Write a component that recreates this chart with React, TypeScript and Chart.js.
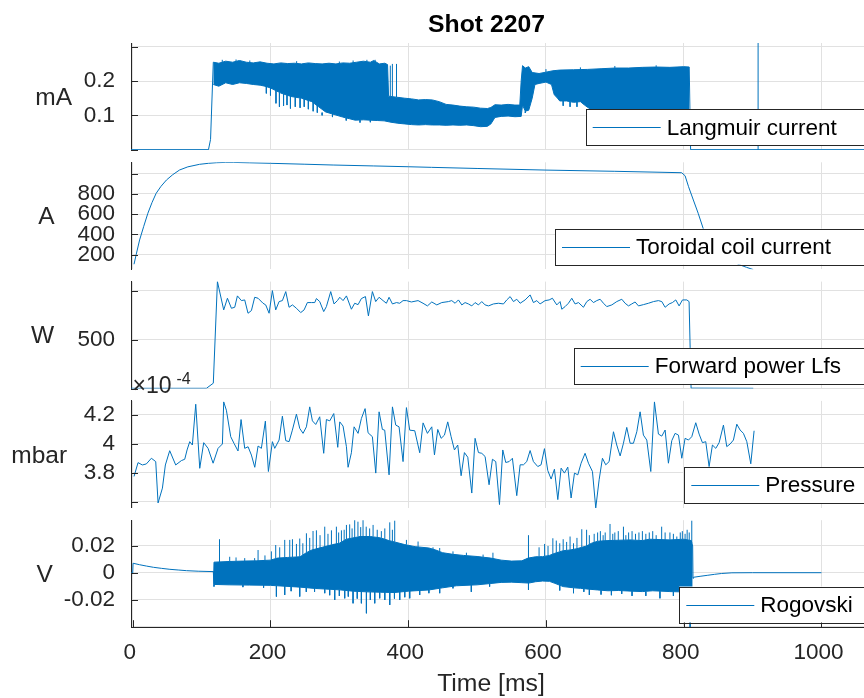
import React, { useEffect, useRef } from 'react';
import { Chart, registerables } from 'chart.js';

Chart.register(...registerables);

const FONT = '"Liberation Sans", Arial, Helvetica, sans-serif';
const BLUE = '#0072BD';
const AXIS = '#262626';
const GRID = '#e1e1e1';

type Pair = [number, number];
type Spike = [number, number, number]; // time, from, to

// ---------- shared x axis ----------
const X_MIN = -2.5;
const X_MAX = 1085;
const X_TICKS = [0, 200, 400, 600, 800, 1000];
const X_TICK_LABELS = ['0', '200', '400', '600', '800', '1000'];

// ---------- Langmuir current (mA) ----------
const LANG_UPPER: Pair[] = [
  [-2.5, 0], [110, 0], [113, 0.03], [116, 0.2], [117, 0.255], [125, 0.252], [135, 0.258], [145, 0.255],
  [155, 0.26], [165, 0.255], [175, 0.253], [185, 0.256], [195, 0.252], [205, 0.25], [215, 0.253],
  [225, 0.251], [235, 0.252], [245, 0.25], [255, 0.253], [265, 0.251], [275, 0.25], [285, 0.252],
  [295, 0.25], [305, 0.253], [315, 0.252], [325, 0.255], [335, 0.258], [345, 0.255], [350, 0.26],
  [358, 0.25], [366, 0.252], [370, 0.248], [371.5, 0.156], [383, 0.153], [395, 0.15], [405, 0.148],
  [415, 0.145], [425, 0.146], [435, 0.145], [445, 0.14], [455, 0.132], [465, 0.13], [475, 0.127],
  [485, 0.125], [495, 0.124], [505, 0.121], [515, 0.12], [520, 0.123], [526, 0.131], [535, 0.13],
  [545, 0.132], [555, 0.13], [562, 0.13], [564, 0.2], [566, 0.245], [570, 0.238], [575, 0.242],
  [580, 0.225], [590, 0.222], [600, 0.226], [610, 0.23], [620, 0.232], [640, 0.233], [660, 0.234],
  [680, 0.236], [700, 0.238], [720, 0.238], [740, 0.24], [760, 0.241], [780, 0.24], [800, 0.242],
  [808, 0.241], [810, 0], [1085, 0],
];
const LANG_LOWER: Pair[] = [
  [117, 0.19], [125, 0.185], [135, 0.195], [145, 0.19], [155, 0.195], [165, 0.193], [175, 0.19],
  [185, 0.188], [192, 0.185], [200, 0.18], [215, 0.165], [230, 0.155], [245, 0.15], [260, 0.14],
  [270, 0.125], [280, 0.11], [290, 0.104], [305, 0.095], [315, 0.09], [323, 0.086], [335, 0.087],
  [345, 0.086], [355, 0.085], [365, 0.084], [375, 0.08], [385, 0.077], [395, 0.075], [405, 0.073],
  [415, 0.072], [425, 0.073], [435, 0.072], [445, 0.072], [455, 0.071], [465, 0.072], [475, 0.071],
  [485, 0.072], [495, 0.07], [505, 0.067], [515, 0.068], [520, 0.075], [526, 0.094], [535, 0.097],
  [545, 0.098], [555, 0.096], [564, 0.097], [566, 0.13], [570, 0.112], [575, 0.115], [580, 0.15],
  [584, 0.19], [590, 0.193], [600, 0.197], [608, 0.19], [612, 0.16], [616, 0.152], [620, 0.142],
  [630, 0.142], [640, 0.138], [650, 0.14], [656, 0.13], [670, 0.11], [700, 0.105], [750, 0.105],
  [808, 0.11],
];
const LANG_SPIKES: Spike[] = [
  [130, 0.252, 0.262], [150, 0.255, 0.263], [170, 0.253, 0.26], [194, 0.186, 0.164], [200, 0.18, 0.158],
  [208, 0.172, 0.135], [213, 0.166, 0.125], [219, 0.162, 0.128], [224, 0.159, 0.13], [229, 0.156, 0.12],
  [236, 0.153, 0.125], [238, 0.252, 0.258], [243, 0.15, 0.122], [249, 0.148, 0.125], [255, 0.145, 0.118],
  [262, 0.138, 0.112], [268, 0.13, 0.108], [275, 0.108, 0.1], [290, 0.104, 0.095], [300, 0.25, 0.257],
  [310, 0.093, 0.085], [320, 0.252, 0.26], [330, 0.086, 0.079], [340, 0.256, 0.262], [345, 0.086, 0.08],
  [352, 0.258, 0.262], [374, 0.156, 0.245], [377, 0.155, 0.25], [383, 0.153, 0.25], [570, 0.112, 0.107],
  [600, 0.226, 0.235], [625, 0.142, 0.128], [635, 0.14, 0.125], [645, 0.14, 0.125], [650, 0.233, 0.24],
  [700, 0.238, 0.244], [760, 0.241, 0.246], [908, 0, 0.311],
];
const LANG_TICKS = [0, 0.1, 0.2, 0.3];
const LANG_TICK_LABELS = ['', '0.1', '0.2', ''];

// ---------- Toroidal coil current (A) ----------
const TOR: Pair[] = [
  [1.9, 105], [5, 200], [10, 345], [16, 480], [22, 609], [28, 715], [34, 806], [41, 875], [49, 938],
  [58, 990], [68, 1037], [80, 1068], [97, 1093], [110, 1103], [121.5, 1109], [135, 1112], [146, 1112],
  [170, 1108], [200, 1103], [250, 1094], [291, 1086], [350, 1077], [400, 1069], [434, 1063],
  [500, 1052], [600, 1036], [700, 1024], [797, 1010], [802, 980], [807, 872], [814, 740], [821, 609],
  [829, 444], [840, 330], [850, 250], [860, 185], [870, 135], [881, 100], [891, 75], [901, 52],
];
const TOR_TICKS = [200, 400, 600, 800, 1000];
const TOR_TICK_LABELS = ['200', '400', '600', '800', ''];

// ---------- Forward power Lfs (W) ----------
const FWD: Pair[] = [
  [-2.5, 3], [107, 3], [117, 55], [123, 1092], [132.1, 803], [137.5, 922], [143.3, 820], [148.1, 830],
  [152, 946], [157.8, 898], [162.6, 905], [167.4, 769], [172.3, 796], [177.1, 932], [182, 922],
  [189.2, 871], [193.1, 854], [198, 769], [202.8, 1000], [207.6, 803], [212.5, 888], [217.3, 898],
  [222.2, 990], [227, 830], [231.9, 854], [237.7, 820], [243.9, 776], [248.8, 803], [253.6, 878],
  [259.4, 878], [264.3, 878], [266.7, 919], [271.5, 888], [277.3, 786], [281.2, 837], [287.5, 990],
  [292.3, 864], [297.2, 898], [300.6, 932], [305.4, 898], [310.3, 946], [317.5, 810], [322.3, 871],
  [327.2, 857], [332, 919], [337.9, 939], [342.2, 742], [348, 990], [352.8, 888], [357.7, 932],
  [363.5, 898], [368.3, 871], [372.2, 932], [377.1, 864], [382.9, 878], [387.7, 871], [392.5, 898],
  [397.4, 898], [404.6, 884], [414.3, 898], [421.5, 871], [427.9, 844], [434.2, 884], [441.5, 854],
  [448.7, 878], [458.4, 888], [463.2, 898], [468.1, 871], [472.9, 905], [477.8, 854], [482.6, 878],
  [487.4, 864], [492.3, 844], [497.1, 878], [502, 854], [506.8, 888], [511.6, 854], [516.5, 844],
  [523.7, 864], [531, 871], [538.3, 864], [543.1, 905], [548, 939], [552.8, 888], [557.6, 912],
  [562.5, 871], [569.7, 905], [577, 956], [581.8, 878], [586.7, 898], [591.5, 864], [598.8, 898],
  [604.6, 905], [609.4, 922], [615.7, 854], [620.5, 888], [623, 810], [627.8, 837], [632.6, 871],
  [637.5, 922], [642.3, 864], [647.2, 878], [654.4, 830], [659.3, 888], [664.1, 912], [668.9, 878],
  [673.8, 898], [678.6, 912], [683.5, 871], [688.3, 837], [695.6, 854], [702.8, 888], [710.1, 912],
  [714.9, 871], [719.8, 844], [724.6, 864], [729.4, 884], [734.3, 844], [741.5, 857], [748.8, 871],
  [756.1, 888], [763.3, 898], [768.2, 888], [773, 830], [778.8, 864], [783.6, 878], [788.5, 905],
  [793.3, 844], [798.2, 905], [804.5, 905], [807.8, 888], [810.7, 5], [901, 3],
];
const FWD_TICKS = [0, 500, 1000];
const FWD_TICK_LABELS = ['', '500', ''];

// ---------- Pressure (x 1e-4 mbar) ----------
const PRES: Pair[] = [
  [1.9, 3.775], [7.7, 3.87], [14, 3.854], [19.8, 3.861], [27.1, 3.9], [33.4, 3.877], [36.8, 3.593],
  [43.1, 3.695], [47.4, 3.854], [53.7, 3.952], [62.4, 3.854], [70.7, 3.884], [75.5, 3.893],
  [78.9, 3.957], [82.8, 4.014], [86.6, 3.991], [91.5, 4.271], [97.3, 3.831], [103.1, 4.007],
  [109.4, 3.968], [116.7, 3.866], [123.9, 3.968], [130.2, 3.998], [132.1, 4.287], [136, 4.23],
  [142.3, 4.048], [147.1, 4.002], [152.9, 3.95], [157.3, 4.166], [162.6, 3.968], [167.5, 3.979],
  [172.3, 3.922], [177.2, 3.838], [182, 3.984], [186.8, 3.968], [192.6, 4.155], [197, 3.809],
  [202.8, 4.014], [206.2, 3.968], [212.5, 4.025], [217.3, 4.189], [222.2, 4.021], [227, 4.014],
  [231.8, 4.093], [237.7, 4.203], [242.5, 4.105], [247.3, 4.071], [252.2, 4.116], [257, 4.253],
  [260.9, 4.157], [265.7, 4.132], [271.5, 4.185], [277.3, 3.934], [281.2, 4.166], [286.1, 4.157],
  [291.9, 4.207], [297.7, 3.975], [300.6, 4.15], [305.4, 4.121], [310.3, 3.979], [312.7, 3.838],
  [317.5, 3.938], [321.4, 4.116], [327.2, 4.071], [332, 4.173], [337.4, 4.241], [341.7, 4.075],
  [348, 4.048], [352.9, 3.798], [357.7, 4.219], [362.5, 4.098], [365.9, 4.093], [372.2, 3.786],
  [377.1, 4.253], [381.9, 4.128], [386.7, 4.116], [392.5, 3.877], [397.4, 4.248], [402.2, 4.093],
  [409.5, 4.089], [416.7, 3.938], [421.6, 4.143], [427.9, 4.071], [434.2, 4.116], [438.1, 3.923],
  [442.9, 4.098], [447.8, 4.037], [452.6, 4.059], [457.4, 4.15], [462.3, 4.048], [467.1, 3.957],
  [471.9, 3.991], [476.8, 3.78], [481.6, 3.939], [486.5, 3.907], [492.3, 3.661], [497.1, 4.037],
  [502, 3.939], [506.8, 3.934], [511.6, 3.912], [517.4, 3.718], [522.3, 3.893], [527.1, 3.877],
  [532.5, 3.582], [537.3, 3.957], [541.6, 3.871], [546.5, 3.877], [551.3, 3.9], [557.6, 3.643],
  [562.5, 3.855], [567.3, 3.855], [572.1, 3.877], [577, 3.953], [581.8, 3.877], [588.1, 3.843],
  [592.9, 3.855], [597.8, 3.966], [602.6, 3.816], [607.5, 3.757], [612.3, 3.825], [617.2, 3.616],
  [622, 3.832], [626.8, 3.798], [631.7, 3.839], [636.5, 3.627], [641.4, 3.798], [646.2, 3.786],
  [651, 3.866], [656.8, 3.934], [661.7, 3.866], [667.5, 3.809], [672.3, 3.559], [677.2, 3.752],
  [682, 3.9], [686.8, 3.855], [691.7, 3.877], [698, 4.082], [702.8, 3.991], [707.7, 3.916],
  [712.5, 4.003], [717.3, 4.112], [722.2, 4.003], [727, 4.003], [731.9, 4.082], [736.7, 4.219],
  [741.5, 4.059], [746.4, 4.025], [752.2, 3.809], [757.5, 4.287], [763.3, 4.066], [768.2, 4.052],
  [773, 4.094], [777.8, 3.866], [782.7, 4.021], [787.5, 4.071], [792.4, 4.059], [797.2, 3.9],
  [802, 4.037], [806.9, 4.025], [811.7, 4.048], [817.5, 4.144], [822.4, 4.066], [827.2, 4.007],
  [832, 4.014], [836.9, 3.843], [841.7, 3.991], [846.6, 3.968], [851.4, 4.007], [857.7, 4.128],
  [862.5, 3.98], [867.4, 3.998], [872.2, 4.025], [877.1, 4.134], [881.9, 4.094], [886.7, 4.071],
  [891.6, 4.014], [897.4, 3.862], [902.2, 4.089],
];
const PRES_TICKS = [3.6, 3.8, 4.0, 4.2];
const PRES_TICK_LABELS = ['', '3.8', '4', '4.2'];

// ---------- Rogovski (V) ----------
const ROG_PRE: Pair[] = [
  [-2.5, 0], [0, 0], [0.5, 0.0072], [10, 0.0061], [20, 0.0051], [30, 0.0042], [42, 0.0034],
  [54, 0.0027], [66, 0.0022], [78, 0.0017], [95, 0.0013], [117, 0.001],
];
const ROG_UPPER: Pair[] = [
  [117, 0.001], [118, 0.008], [140, 0.0085], [160, 0.0088], [180, 0.009], [200, 0.0095], [210, 0.011],
  [225, 0.0115], [243, 0.012], [252, 0.015], [260, 0.017], [275, 0.019], [290, 0.021], [300, 0.022],
  [310, 0.025], [330, 0.027], [345, 0.027], [360, 0.026], [372, 0.024], [380, 0.023], [395, 0.021],
  [410, 0.0195], [430, 0.0185], [440, 0.017], [450, 0.015], [465, 0.0138], [480, 0.013], [500, 0.0122],
  [520, 0.011], [535, 0.0095], [550, 0.0088], [565, 0.009], [574, 0.011], [585, 0.012], [595, 0.0121],
  [605, 0.013], [613, 0.0146], [625, 0.0165], [635, 0.017], [645, 0.018], [652, 0.019], [659, 0.02],
  [666, 0.022], [675, 0.0235], [690, 0.024], [722, 0.0245], [740, 0.024], [750, 0.025], [780, 0.0245],
  [800, 0.025], [811, 0.024], [813, 0.02],
];
const ROG_LOWER: Pair[] = [
  [117, 0.001], [118, -0.0085], [140, -0.0088], [170, -0.009], [200, -0.0092], [220, -0.0098],
  [243, -0.0105], [265, -0.0115], [300, -0.0125], [320, -0.0135], [340, -0.014], [360, -0.0143],
  [380, -0.0145], [400, -0.0135], [430, -0.0126], [450, -0.011], [470, -0.0095], [500, -0.0088],
  [520, -0.0078], [535, -0.007], [550, -0.0068], [565, -0.0072], [575, -0.0075], [585, -0.0065],
  [595, -0.006], [605, -0.0062], [613, -0.0077], [625, -0.0101], [640, -0.011], [650, -0.0114],
  [662, -0.012], [675, -0.0126], [690, -0.0132], [705, -0.013], [725, -0.0135], [740, -0.0138],
  [755, -0.0132], [780, -0.0138], [795, -0.014], [805, -0.0135], [813, -0.012],
];
const ROG_UP_SPIKES: Spike[] = [
  [126, 0.008, 0.025], [140.8, 0.0085, 0.012], [150, 0.0087, 0.0115], [162.6, 0.0088, 0.011],
  [177, 0.009, 0.011], [182, 0.009, 0.017], [192, 0.0092, 0.013], [201.3, 0.0095, 0.016],
  [207.6, 0.011, 0.0207], [213.4, 0.011, 0.019], [220.7, 0.0115, 0.0245], [228, 0.0115, 0.0245],
  [231.9, 0.0118, 0.025], [237.7, 0.012, 0.0215], [242.5, 0.012, 0.0255], [247, 0.013, 0.022],
  [252.2, 0.015, 0.0294], [257, 0.016, 0.026], [261.8, 0.017, 0.0311], [266.7, 0.0175, 0.0316],
  [272, 0.018, 0.028], [278.8, 0.019, 0.0343], [283.5, 0.02, 0.029], [288.5, 0.021, 0.0316],
  [295.7, 0.0215, 0.0343], [299, 0.022, 0.03], [303, 0.023, 0.0316], [307, 0.024, 0.032],
  [310.3, 0.025, 0.0356], [315, 0.025, 0.036], [318.5, 0.026, 0.033], [322.3, 0.026, 0.0393],
  [327, 0.027, 0.038], [331, 0.027, 0.034], [334.4, 0.027, 0.0393], [339, 0.027, 0.0343],
  [344, 0.027, 0.033], [349, 0.027, 0.0356], [355, 0.026, 0.032], [361, 0.026, 0.031], [366, 0.025, 0.033],
  [373.2, 0.024, 0.0375], [377, 0.0235, 0.032], [380.4, 0.023, 0.0388], [397.4, 0.021, 0.0245],
  [414.3, 0.019, 0.0233], [436, 0.017, 0.019], [445.7, 0.016, 0.0185], [465, 0.0138, 0.016],
  [484.5, 0.013, 0.015], [508.7, 0.0118, 0.0136], [523, 0.0105, 0.015], [574.6, 0.011, 0.028],
  [590, 0.0125, 0.019], [598, 0.0125, 0.0215], [603, 0.013, 0.02], [610, 0.0135, 0.0257],
  [615, 0.015, 0.024], [620, 0.016, 0.022], [625, 0.0165, 0.025], [630, 0.017, 0.023], [635, 0.017, 0.027],
  [640, 0.017, 0.022], [645, 0.018, 0.026], [652, 0.019, 0.0324], [659, 0.02, 0.032], [663, 0.021, 0.028],
  [670, 0.022, 0.029], [675, 0.0235, 0.03], [679, 0.023, 0.031], [683, 0.023, 0.028], [686, 0.023, 0.03],
  [693, 0.024, 0.0363], [697, 0.024, 0.029], [700, 0.024, 0.03], [705, 0.024, 0.031], [712.5, 0.024, 0.0343],
  [716, 0.0245, 0.028], [720, 0.0245, 0.03], [725, 0.0245, 0.031], [730, 0.0245, 0.029], [735, 0.024, 0.03],
  [740, 0.024, 0.031], [745, 0.024, 0.029], [750, 0.025, 0.03], [755, 0.025, 0.031], [760, 0.024, 0.028],
  [768, 0.024, 0.0343], [773, 0.0245, 0.03], [780, 0.0245, 0.03], [785, 0.0245, 0.029], [790, 0.024, 0.027],
  [795, 0.025, 0.03], [798, 0.025, 0.031], [802, 0.025, 0.029], [805, 0.024, 0.032], [808, 0.024, 0.03],
  [811.7, 0.022, 0.0388],
];
const ROG_DOWN_SPIKES: Spike[] = [
  [118, -0.0085, -0.0101], [160, -0.0088, -0.0105], [190, -0.009, -0.011], [208.6, -0.0095, -0.0175],
  [220.7, -0.0098, -0.0163], [230, -0.01, -0.0135], [242.5, -0.0105, -0.0175], [252, -0.011, -0.014],
  [264, -0.0115, -0.014], [278.8, -0.012, -0.015], [286, -0.012, -0.0165], [293.3, -0.0123, -0.02],
  [300, -0.0125, -0.017], [307.8, -0.013, -0.0188], [313, -0.013, -0.0175], [319.9, -0.0135, -0.0225],
  [326, -0.0137, -0.019], [332, -0.0138, -0.0225], [339.3, -0.014, -0.0299], [345, -0.014, -0.02],
  [351.4, -0.0142, -0.0225], [358.6, -0.0143, -0.0188], [366, -0.0144, -0.02], [373.2, -0.0145, -0.0237],
  [380, -0.0145, -0.019], [387.7, -0.014, -0.02], [395, -0.0137, -0.018], [402.2, -0.0133, -0.0188],
  [416.7, -0.013, -0.0163], [430, -0.0126, -0.015], [445.7, -0.0115, -0.015], [465, -0.0097, -0.0114],
  [491.6, -0.009, -0.014], [518.2, -0.008, -0.0101], [574.6, -0.0075, -0.0126], [620, -0.009, -0.013],
  [640, -0.011, -0.015], [655, -0.0115, -0.014], [663, -0.012, -0.0163], [680, -0.0128, -0.016],
  [695, -0.013, -0.0165], [710, -0.013, -0.0155], [725, -0.0135, -0.017], [745, -0.0138, -0.017],
  [765.5, -0.0135, -0.0188], [785, -0.0138, -0.017], [800, -0.014, -0.0165], [809.3, -0.013, -0.0402],
];
const ROG_POST: Pair[] = [
  [813, 0.02], [813.5, -0.004], [814.1, -0.0032], [825, -0.0024], [835, -0.0017], [845, -0.001],
  [855, -0.0004], [870, 0.0001], [900, 0.0002], [1000, 0.0002],
];
const ROG_TICKS = [-0.04, -0.02, 0, 0.02];
const ROG_TICK_LABELS = ['', '-0.02', '0', '0.02'];

// ---------- layout ----------
const CANVAS_W = 900;
const PLOT_H = 107;
const LEFT = 131;
const RIGHT_PAD = 20;

const pts = (a: Pair[]) => a.map(([x, y]) => ({ x, y }));
const spikePts = (a: Spike[]) =>
  a.flatMap(([t, from, to]) => [
    { x: t, y: from },
    { x: t, y: to },
    { x: t, y: null },
  ]);
const line = (data: any[], extra: any = {}) => ({
  data,
  borderColor: BLUE,
  backgroundColor: BLUE,
  borderWidth: 1,
  pointRadius: 0,
  fill: false,
  tension: 0,
  spanGaps: false,
  ...extra,
});

type Panel = {
  cTop: number;
  cH: number;
  plotTop: number;
  yMin: number;
  yMax: number;
  yTicks: number[];
  yLabels: string[];
  ylabel: string;
  ylabelX: number;
  legend: string;
  legendLeft: number;
  datasets: any[];
  bottom?: boolean;
  extra?: (ctx: CanvasRenderingContext2D, chart: any, p: Panel) => void;
};

const PANELS: Panel[] = [
  {
    cTop: 0, cH: 158, plotTop: 43, yMin: -0.001, yMax: 0.311, yTicks: LANG_TICKS, yLabels: LANG_TICK_LABELS,
    ylabel: 'mA', ylabelX: 53.7, legend: 'Langmuir current', legendLeft: 585.7,
    datasets: [line(pts(LANG_UPPER)), line(pts(LANG_LOWER), { fill: '-1' }), line(spikePts(LANG_SPIKES))],
    extra: (ctx) => {
      ctx.fillStyle = '#000';
      ctx.font = `bold 24.75px ${FONT}`;
      ctx.textAlign = 'center';
      ctx.textBaseline = 'alphabetic';
      ctx.fillText('Shot 2207', 486.5, 32);
    },
  },
  {
    cTop: 140, cH: 136, plotTop: 162.3, yMin: 55, yMax: 1113, yTicks: TOR_TICKS, yLabels: TOR_TICK_LABELS,
    ylabel: 'A', ylabelX: 46.3, legend: 'Toroidal coil current', legendLeft: 555,
    datasets: [line(pts(TOR))],
  },
  {
    cTop: 259, cH: 136, plotTop: 281.6, yMin: 0, yMax: 1092, yTicks: FWD_TICKS, yLabels: FWD_TICK_LABELS,
    ylabel: 'W', ylabelX: 42.5, legend: 'Forward power Lfs', legendLeft: 573.7,
    datasets: [line(pts(FWD))],
  },
  {
    cTop: 361, cH: 154, plotTop: 400.9, yMin: 3.559, yMax: 4.294, yTicks: PRES_TICKS, yLabels: PRES_TICK_LABELS,
    ylabel: 'mbar', ylabelX: 39.2, legend: 'Pressure', legendLeft: 684.3,
    datasets: [line(pts(PRES))],
    extra: (ctx, chart, p) => {
      ctx.fillStyle = AXIS;
      ctx.textAlign = 'left';
      ctx.textBaseline = 'alphabetic';
      ctx.font = `23px ${FONT}`;
      ctx.fillText('\u00d710', 132.5, 393.3 - p.cTop);
      ctx.font = `16px ${FONT}`;
      ctx.fillText('-4', 176.5, 383.5 - p.cTop);
    },
  },
  {
    cTop: 498, cH: 200, plotTop: 520.2, yMin: -0.0402, yMax: 0.0391, yTicks: ROG_TICKS, yLabels: ROG_TICK_LABELS,
    ylabel: 'V', ylabelX: 44.7, legend: 'Rogovski', legendLeft: 679.3,
    datasets: [
      line(pts(ROG_UPPER)),
      line(pts(ROG_LOWER), { fill: '-1' }),
      line(pts(ROG_PRE)),
      line(pts(ROG_POST)),
      line(spikePts(ROG_UP_SPIKES)),
      line(spikePts(ROG_DOWN_SPIKES)),
    ],
    bottom: true,
    extra: (ctx, chart, p) => {
      ctx.fillStyle = AXIS;
      ctx.font = `24.75px ${FONT}`;
      ctx.textAlign = 'center';
      ctx.textBaseline = 'alphabetic';
      ctx.fillText('Time [ms]', 491, 691 - p.cTop);
    },
  },
];

const overlay = (p: Panel) => ({
  id: 'overlay',
  afterDraw(chart: any) {
    const ctx: CanvasRenderingContext2D = chart.ctx;
    const a = chart.chartArea;
    ctx.save();
    // inward tick marks
    ctx.strokeStyle = AXIS;
    ctx.lineWidth = 1;
    ctx.beginPath();
    const ys = chart.scales.y;
    for (const v of p.yTicks) {
      const py = Math.round(ys.getPixelForValue(v)) + 0.5;
      ctx.moveTo(a.left, py);
      ctx.lineTo(a.left + 7, py);
    }
    if (p.bottom) {
      const xs = chart.scales.x;
      for (const v of X_TICKS) {
        const px = Math.round(xs.getPixelForValue(v)) + 0.5;
        ctx.moveTo(px, a.bottom);
        ctx.lineTo(px, a.bottom - 7);
      }
    }
    ctx.stroke();
    // horizontal y label
    ctx.fillStyle = AXIS;
    ctx.font = `24.5px ${FONT}`;
    ctx.textAlign = 'center';
    ctx.textBaseline = 'middle';
    ctx.fillText(p.ylabel, p.ylabelX, (a.top + a.bottom) / 2 + 1.5);
    // legend box
    const bx = p.legendLeft;
    const by = a.bottom - 40.7;
    const bh = 36;
    ctx.fillStyle = '#ffffff';
    ctx.fillRect(bx, by, CANVAS_W - bx, bh);
    ctx.strokeStyle = AXIS;
    ctx.strokeRect(Math.round(bx) + 0.5, Math.round(by) + 0.5, CANVAS_W, Math.round(bh));
    const my = Math.round(by + bh / 2) + 0.5;
    ctx.strokeStyle = BLUE;
    ctx.beginPath();
    ctx.moveTo(bx + 7, my);
    ctx.lineTo(bx + 75, my);
    ctx.stroke();
    ctx.fillStyle = '#000';
    ctx.font = `22.5px ${FONT}`;
    ctx.textAlign = 'left';
    ctx.textBaseline = 'middle';
    ctx.fillText(p.legend, bx + 81, by + bh / 2 + 1);
    if (p.extra) p.extra(ctx, chart, p);
    ctx.restore();
  },
});

function makeConfig(p: Panel): any {
  const plotBottom = p.plotTop - p.cTop + PLOT_H;
  const xH = p.bottom ? p.cH - plotBottom : 0;
  const padBottom = p.bottom ? 0 : p.cH - plotBottom;
  return {
    type: 'line',
    data: { datasets: p.datasets },
    options: {
      responsive: false,
      animation: false,
      devicePixelRatio: 1,
      events: [],
      layout: { padding: { top: p.plotTop - p.cTop, bottom: padBottom, left: 0, right: RIGHT_PAD } },
      plugins: { legend: { display: false }, tooltip: { enabled: false }, title: { display: false } },
      scales: {
        x: {
          type: 'linear',
          min: X_MIN,
          max: X_MAX,
          afterBuildTicks: (s: any) => {
            s.ticks = X_TICKS.map((v) => ({ value: v }));
          },
          afterFit: (s: any) => {
            s.height = xH;
            s.paddingLeft = 0;
            s.paddingRight = 0;
            s.paddingTop = 0;
            s.paddingBottom = 0;
          },
          grid: { color: GRID, lineWidth: 1, drawTicks: false },
          border: { display: !!p.bottom, color: AXIS, width: 1 },
          ticks: {
            display: !!p.bottom,
            autoSkip: false,
            maxRotation: 0,
            padding: 12,
            labelOffset: -3,
            color: AXIS,
            font: { family: FONT, size: 22.5 },
            callback: (_v: any, i: number) => X_TICK_LABELS[i],
          },
        },
        y: {
          type: 'linear',
          min: p.yMin,
          max: p.yMax,
          afterBuildTicks: (s: any) => {
            s.ticks = p.yTicks.map((v) => ({ value: v }));
          },
          afterFit: (s: any) => {
            s.width = LEFT;
            s.paddingTop = 0;
            s.paddingBottom = 0;
            s.paddingLeft = 0;
            s.paddingRight = 0;
          },
          grid: { color: GRID, lineWidth: 1, drawTicks: false },
          border: { display: true, color: AXIS, width: 1 },
          ticks: {
            autoSkip: false,
            padding: 16,
            color: AXIS,
            font: { family: FONT, size: 22.5 },
            callback: (_v: any, i: number) => p.yLabels[i],
          },
        },
      },
    },
    plugins: [overlay(p)],
  };
}

export default function App() {
  const refs = useRef<(HTMLCanvasElement | null)[]>([]);
  useEffect(() => {
    const charts = PANELS.map((p, i) => new Chart(refs.current[i] as HTMLCanvasElement, makeConfig(p)));
    return () => charts.forEach((c) => c.destroy());
  }, []);
  return (
    <div
      style={{
        position: 'absolute',
        left: 0,
        top: 0,
        width: 864,
        height: 698,
        overflow: 'hidden',
        background: '#ffffff',
      }}
    >
      {PANELS.map((p, i) => (
        <canvas
          key={i}
          ref={(el) => {
            refs.current[i] = el;
          }}
          width={CANVAS_W}
          height={p.cH}
          style={{ position: 'absolute', left: 0, top: p.cTop, width: CANVAS_W, height: p.cH, display: 'block' }}
        />
      ))}
    </div>
  );
}
